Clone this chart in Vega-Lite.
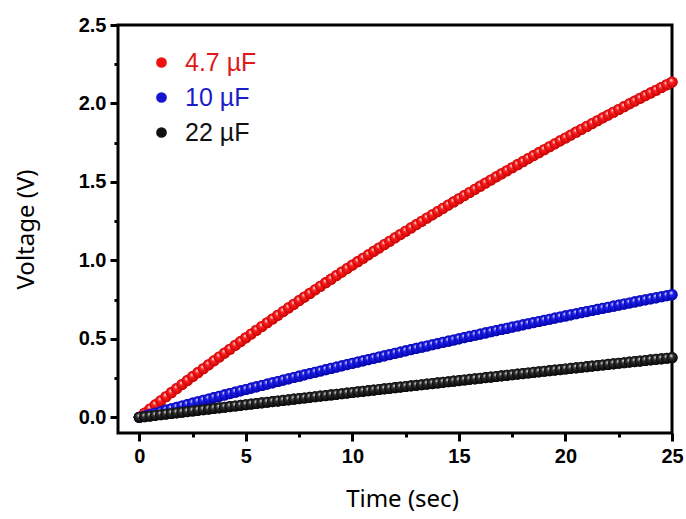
{
"$schema": "https://vega.github.io/schema/vega-lite/v6.json",
"width": 554, "height": 408,
"autosize": {"type": "none"},
"padding": {"left": 118, "top": 25, "right": 14, "bottom": 86},
"background": "white",
"config": {"view": {"stroke": "black", "strokeWidth": 3}},
"data": {"values": [
{"C":"4.7 µF","t":0,"v":0},{"C":"4.7 µF","t":0.25,"v":0.0264},{"C":"4.7 µF","t":0.5,"v":0.0528},{"C":"4.7 µF","t":0.75,"v":0.079},{"C":"4.7 µF","t":1,"v":0.105},{"C":"4.7 µF","t":1.25,"v":0.131},{"C":"4.7 µF","t":1.5,"v":0.1569},{"C":"4.7 µF","t":1.75,"v":0.1826},{"C":"4.7 µF","t":2,"v":0.2082},{"C":"4.7 µF","t":2.25,"v":0.2337},{"C":"4.7 µF","t":2.5,"v":0.2591},{"C":"4.7 µF","t":2.75,"v":0.2844},{"C":"4.7 µF","t":3,"v":0.3095},{"C":"4.7 µF","t":3.25,"v":0.3345},{"C":"4.7 µF","t":3.5,"v":0.3595},{"C":"4.7 µF","t":3.75,"v":0.3843},{"C":"4.7 µF","t":4,"v":0.409},{"C":"4.7 µF","t":4.25,"v":0.4336},{"C":"4.7 µF","t":4.5,"v":0.4581},{"C":"4.7 µF","t":4.75,"v":0.4824},{"C":"4.7 µF","t":5,"v":0.5067},{"C":"4.7 µF","t":5.25,"v":0.5308},{"C":"4.7 µF","t":5.5,"v":0.5549},{"C":"4.7 µF","t":5.75,"v":0.5788},{"C":"4.7 µF","t":6,"v":0.6026},{"C":"4.7 µF","t":6.25,"v":0.6263},{"C":"4.7 µF","t":6.5,"v":0.65},{"C":"4.7 µF","t":6.75,"v":0.6735},{"C":"4.7 µF","t":7,"v":0.6968},{"C":"4.7 µF","t":7.25,"v":0.7201},{"C":"4.7 µF","t":7.5,"v":0.7433},{"C":"4.7 µF","t":7.75,"v":0.7664},{"C":"4.7 µF","t":8,"v":0.7894},{"C":"4.7 µF","t":8.25,"v":0.8122},{"C":"4.7 µF","t":8.5,"v":0.835},{"C":"4.7 µF","t":8.75,"v":0.8577},{"C":"4.7 µF","t":9,"v":0.8802},{"C":"4.7 µF","t":9.25,"v":0.9027},{"C":"4.7 µF","t":9.5,"v":0.9251},{"C":"4.7 µF","t":9.75,"v":0.9473},{"C":"4.7 µF","t":10,"v":0.9695},{"C":"4.7 µF","t":10.25,"v":0.9916},{"C":"4.7 µF","t":10.5,"v":1.0135},{"C":"4.7 µF","t":10.75,"v":1.0354},{"C":"4.7 µF","t":11,"v":1.0572},{"C":"4.7 µF","t":11.25,"v":1.0788},{"C":"4.7 µF","t":11.5,"v":1.1004},{"C":"4.7 µF","t":11.75,"v":1.1219},{"C":"4.7 µF","t":12,"v":1.1433},{"C":"4.7 µF","t":12.25,"v":1.1646},{"C":"4.7 µF","t":12.5,"v":1.1857},{"C":"4.7 µF","t":12.75,"v":1.2068},{"C":"4.7 µF","t":13,"v":1.2278},{"C":"4.7 µF","t":13.25,"v":1.2488},{"C":"4.7 µF","t":13.5,"v":1.2696},{"C":"4.7 µF","t":13.75,"v":1.2903},{"C":"4.7 µF","t":14,"v":1.3109},{"C":"4.7 µF","t":14.25,"v":1.3315},{"C":"4.7 µF","t":14.5,"v":1.3519},{"C":"4.7 µF","t":14.75,"v":1.3723},{"C":"4.7 µF","t":15,"v":1.3926},{"C":"4.7 µF","t":15.25,"v":1.4128},{"C":"4.7 µF","t":15.5,"v":1.4328},{"C":"4.7 µF","t":15.75,"v":1.4528},{"C":"4.7 µF","t":16,"v":1.4728},{"C":"4.7 µF","t":16.25,"v":1.4926},{"C":"4.7 µF","t":16.5,"v":1.5123},{"C":"4.7 µF","t":16.75,"v":1.532},{"C":"4.7 µF","t":17,"v":1.5516},{"C":"4.7 µF","t":17.25,"v":1.5711},{"C":"4.7 µF","t":17.5,"v":1.5905},{"C":"4.7 µF","t":17.75,"v":1.6098},{"C":"4.7 µF","t":18,"v":1.629},{"C":"4.7 µF","t":18.25,"v":1.6482},{"C":"4.7 µF","t":18.5,"v":1.6673},{"C":"4.7 µF","t":18.75,"v":1.6863},{"C":"4.7 µF","t":19,"v":1.7052},{"C":"4.7 µF","t":19.25,"v":1.724},{"C":"4.7 µF","t":19.5,"v":1.7427},{"C":"4.7 µF","t":19.75,"v":1.7614},{"C":"4.7 µF","t":20,"v":1.78},{"C":"4.7 µF","t":20.25,"v":1.7985},{"C":"4.7 µF","t":20.5,"v":1.8169},{"C":"4.7 µF","t":20.75,"v":1.8353},{"C":"4.7 µF","t":21,"v":1.8536},{"C":"4.7 µF","t":21.25,"v":1.8718},{"C":"4.7 µF","t":21.5,"v":1.8899},{"C":"4.7 µF","t":21.75,"v":1.908},{"C":"4.7 µF","t":22,"v":1.9259},{"C":"4.7 µF","t":22.25,"v":1.9438},{"C":"4.7 µF","t":22.5,"v":1.9616},{"C":"4.7 µF","t":22.75,"v":1.9794},{"C":"4.7 µF","t":23,"v":1.9971},{"C":"4.7 µF","t":23.25,"v":2.0147},{"C":"4.7 µF","t":23.5,"v":2.0322},{"C":"4.7 µF","t":23.75,"v":2.0497},{"C":"4.7 µF","t":24,"v":2.0671},{"C":"4.7 µF","t":24.25,"v":2.0844},{"C":"4.7 µF","t":24.5,"v":2.1016},{"C":"4.7 µF","t":24.75,"v":2.1188},{"C":"4.7 µF","t":25,"v":2.1359},
{"C":"10 µF","t":0,"v":0},{"C":"10 µF","t":0.25,"v":0.0091},{"C":"10 µF","t":0.5,"v":0.0182},{"C":"10 µF","t":0.75,"v":0.0273},{"C":"10 µF","t":1,"v":0.0363},{"C":"10 µF","t":1.25,"v":0.0453},{"C":"10 µF","t":1.5,"v":0.0543},{"C":"10 µF","t":1.75,"v":0.0632},{"C":"10 µF","t":2,"v":0.0722},{"C":"10 µF","t":2.25,"v":0.0811},{"C":"10 µF","t":2.5,"v":0.0899},{"C":"10 µF","t":2.75,"v":0.0988},{"C":"10 µF","t":3,"v":0.1076},{"C":"10 µF","t":3.25,"v":0.1164},{"C":"10 µF","t":3.5,"v":0.1252},{"C":"10 µF","t":3.75,"v":0.1339},{"C":"10 µF","t":4,"v":0.1426},{"C":"10 µF","t":4.25,"v":0.1513},{"C":"10 µF","t":4.5,"v":0.16},{"C":"10 µF","t":4.75,"v":0.1686},{"C":"10 µF","t":5,"v":0.1773},{"C":"10 µF","t":5.25,"v":0.1858},{"C":"10 µF","t":5.5,"v":0.1944},{"C":"10 µF","t":5.75,"v":0.2029},{"C":"10 µF","t":6,"v":0.2114},{"C":"10 µF","t":6.25,"v":0.2199},{"C":"10 µF","t":6.5,"v":0.2284},{"C":"10 µF","t":6.75,"v":0.2368},{"C":"10 µF","t":7,"v":0.2452},{"C":"10 µF","t":7.25,"v":0.2536},{"C":"10 µF","t":7.5,"v":0.2619},{"C":"10 µF","t":7.75,"v":0.2703},{"C":"10 µF","t":8,"v":0.2786},{"C":"10 µF","t":8.25,"v":0.2868},{"C":"10 µF","t":8.5,"v":0.2951},{"C":"10 µF","t":8.75,"v":0.3033},{"C":"10 µF","t":9,"v":0.3115},{"C":"10 µF","t":9.25,"v":0.3197},{"C":"10 µF","t":9.5,"v":0.3278},{"C":"10 µF","t":9.75,"v":0.3359},{"C":"10 µF","t":10,"v":0.344},{"C":"10 µF","t":10.25,"v":0.3521},{"C":"10 µF","t":10.5,"v":0.3601},{"C":"10 µF","t":10.75,"v":0.3681},{"C":"10 µF","t":11,"v":0.3761},{"C":"10 µF","t":11.25,"v":0.384},{"C":"10 µF","t":11.5,"v":0.392},{"C":"10 µF","t":11.75,"v":0.3999},{"C":"10 µF","t":12,"v":0.4078},{"C":"10 µF","t":12.25,"v":0.4156},{"C":"10 µF","t":12.5,"v":0.4234},{"C":"10 µF","t":12.75,"v":0.4312},{"C":"10 µF","t":13,"v":0.439},{"C":"10 µF","t":13.25,"v":0.4468},{"C":"10 µF","t":13.5,"v":0.4545},{"C":"10 µF","t":13.75,"v":0.4622},{"C":"10 µF","t":14,"v":0.4698},{"C":"10 µF","t":14.25,"v":0.4775},{"C":"10 µF","t":14.5,"v":0.4851},{"C":"10 µF","t":14.75,"v":0.4927},{"C":"10 µF","t":15,"v":0.5003},{"C":"10 µF","t":15.25,"v":0.5078},{"C":"10 µF","t":15.5,"v":0.5153},{"C":"10 µF","t":15.75,"v":0.5228},{"C":"10 µF","t":16,"v":0.5302},{"C":"10 µF","t":16.25,"v":0.5377},{"C":"10 µF","t":16.5,"v":0.5451},{"C":"10 µF","t":16.75,"v":0.5525},{"C":"10 µF","t":17,"v":0.5598},{"C":"10 µF","t":17.25,"v":0.5671},{"C":"10 µF","t":17.5,"v":0.5744},{"C":"10 µF","t":17.75,"v":0.5817},{"C":"10 µF","t":18,"v":0.589},{"C":"10 µF","t":18.25,"v":0.5962},{"C":"10 µF","t":18.5,"v":0.6034},{"C":"10 µF","t":18.75,"v":0.6105},{"C":"10 µF","t":19,"v":0.6177},{"C":"10 µF","t":19.25,"v":0.6248},{"C":"10 µF","t":19.5,"v":0.6319},{"C":"10 µF","t":19.75,"v":0.639},{"C":"10 µF","t":20,"v":0.646},{"C":"10 µF","t":20.25,"v":0.653},{"C":"10 µF","t":20.5,"v":0.66},{"C":"10 µF","t":20.75,"v":0.667},{"C":"10 µF","t":21,"v":0.6739},{"C":"10 µF","t":21.25,"v":0.6808},{"C":"10 µF","t":21.5,"v":0.6877},{"C":"10 µF","t":21.75,"v":0.6945},{"C":"10 µF","t":22,"v":0.7014},{"C":"10 µF","t":22.25,"v":0.7082},{"C":"10 µF","t":22.5,"v":0.7149},{"C":"10 µF","t":22.75,"v":0.7217},{"C":"10 µF","t":23,"v":0.7284},{"C":"10 µF","t":23.25,"v":0.7351},{"C":"10 µF","t":23.5,"v":0.7418},{"C":"10 µF","t":23.75,"v":0.7484},{"C":"10 µF","t":24,"v":0.755},{"C":"10 µF","t":24.25,"v":0.7616},{"C":"10 µF","t":24.5,"v":0.7682},{"C":"10 µF","t":24.75,"v":0.7747},{"C":"10 µF","t":25,"v":0.7813},
{"C":"22 µF","t":0,"v":0},{"C":"22 µF","t":0.25,"v":0.004},{"C":"22 µF","t":0.5,"v":0.0081},{"C":"22 µF","t":0.75,"v":0.0121},{"C":"22 µF","t":1,"v":0.0162},{"C":"22 µF","t":1.25,"v":0.0202},{"C":"22 µF","t":1.5,"v":0.0242},{"C":"22 µF","t":1.75,"v":0.0282},{"C":"22 µF","t":2,"v":0.0322},{"C":"22 µF","t":2.25,"v":0.0362},{"C":"22 µF","t":2.5,"v":0.0403},{"C":"22 µF","t":2.75,"v":0.0442},{"C":"22 µF","t":3,"v":0.0482},{"C":"22 µF","t":3.25,"v":0.0522},{"C":"22 µF","t":3.5,"v":0.0562},{"C":"22 µF","t":3.75,"v":0.0602},{"C":"22 µF","t":4,"v":0.0642},{"C":"22 µF","t":4.25,"v":0.0681},{"C":"22 µF","t":4.5,"v":0.0721},{"C":"22 µF","t":4.75,"v":0.076},{"C":"22 µF","t":5,"v":0.08},{"C":"22 µF","t":5.25,"v":0.084},{"C":"22 µF","t":5.5,"v":0.0879},{"C":"22 µF","t":5.75,"v":0.0918},{"C":"22 µF","t":6,"v":0.0958},{"C":"22 µF","t":6.25,"v":0.0997},{"C":"22 µF","t":6.5,"v":0.1036},{"C":"22 µF","t":6.75,"v":0.1075},{"C":"22 µF","t":7,"v":0.1114},{"C":"22 µF","t":7.25,"v":0.1153},{"C":"22 µF","t":7.5,"v":0.1193},{"C":"22 µF","t":7.75,"v":0.1231},{"C":"22 µF","t":8,"v":0.127},{"C":"22 µF","t":8.25,"v":0.1309},{"C":"22 µF","t":8.5,"v":0.1348},{"C":"22 µF","t":8.75,"v":0.1387},{"C":"22 µF","t":9,"v":0.1426},{"C":"22 µF","t":9.25,"v":0.1464},{"C":"22 µF","t":9.5,"v":0.1503},{"C":"22 µF","t":9.75,"v":0.1541},{"C":"22 µF","t":10,"v":0.158},{"C":"22 µF","t":10.25,"v":0.1618},{"C":"22 µF","t":10.5,"v":0.1657},{"C":"22 µF","t":10.75,"v":0.1695},{"C":"22 µF","t":11,"v":0.1734},{"C":"22 µF","t":11.25,"v":0.1772},{"C":"22 µF","t":11.5,"v":0.181},{"C":"22 µF","t":11.75,"v":0.1848},{"C":"22 µF","t":12,"v":0.1886},{"C":"22 µF","t":12.25,"v":0.1924},{"C":"22 µF","t":12.5,"v":0.1963},{"C":"22 µF","t":12.75,"v":0.2001},{"C":"22 µF","t":13,"v":0.2038},{"C":"22 µF","t":13.25,"v":0.2076},{"C":"22 µF","t":13.5,"v":0.2114},{"C":"22 µF","t":13.75,"v":0.2152},{"C":"22 µF","t":14,"v":0.219},{"C":"22 µF","t":14.25,"v":0.2227},{"C":"22 µF","t":14.5,"v":0.2265},{"C":"22 µF","t":14.75,"v":0.2302},{"C":"22 µF","t":15,"v":0.234},{"C":"22 µF","t":15.25,"v":0.2377},{"C":"22 µF","t":15.5,"v":0.2415},{"C":"22 µF","t":15.75,"v":0.2452},{"C":"22 µF","t":16,"v":0.249},{"C":"22 µF","t":16.25,"v":0.2527},{"C":"22 µF","t":16.5,"v":0.2564},{"C":"22 µF","t":16.75,"v":0.2601},{"C":"22 µF","t":17,"v":0.2638},{"C":"22 µF","t":17.25,"v":0.2675},{"C":"22 µF","t":17.5,"v":0.2713},{"C":"22 µF","t":17.75,"v":0.275},{"C":"22 µF","t":18,"v":0.2786},{"C":"22 µF","t":18.25,"v":0.2823},{"C":"22 µF","t":18.5,"v":0.286},{"C":"22 µF","t":18.75,"v":0.2897},{"C":"22 µF","t":19,"v":0.2934},{"C":"22 µF","t":19.25,"v":0.297},{"C":"22 µF","t":19.5,"v":0.3007},{"C":"22 µF","t":19.75,"v":0.3043},{"C":"22 µF","t":20,"v":0.308},{"C":"22 µF","t":20.25,"v":0.3116},{"C":"22 µF","t":20.5,"v":0.3153},{"C":"22 µF","t":20.75,"v":0.3189},{"C":"22 µF","t":21,"v":0.3226},{"C":"22 µF","t":21.25,"v":0.3262},{"C":"22 µF","t":21.5,"v":0.3298},{"C":"22 µF","t":21.75,"v":0.3334},{"C":"22 µF","t":22,"v":0.337},{"C":"22 µF","t":22.25,"v":0.3406},{"C":"22 µF","t":22.5,"v":0.3443},{"C":"22 µF","t":22.75,"v":0.3478},{"C":"22 µF","t":23,"v":0.3514},{"C":"22 µF","t":23.25,"v":0.355},{"C":"22 µF","t":23.5,"v":0.3586},{"C":"22 µF","t":23.75,"v":0.3622},{"C":"22 µF","t":24,"v":0.3658},{"C":"22 µF","t":24.25,"v":0.3693},{"C":"22 µF","t":24.5,"v":0.3729},{"C":"22 µF","t":24.75,"v":0.3764},{"C":"22 µF","t":25,"v":0.38}
]},
"encoding": {
  "x": {"field": "t", "type": "quantitative",
    "scale": {"domain": [-1, 25], "nice": false, "zero": false},
    "axis": {"values": [0, 2.5, 5, 7.5, 10, 12.5, 15, 17.5, 20, 22.5, 25], "format": "d",
      "labelExpr": "datum.value % 5 === 0 ? datum.label : ''",
      "domain": false, "grid": false,
      "tickColor": "black", "tickWidth": 3,
      "tickSize": {"condition": {"test": "datum.value % 5 === 0", "value": 8}, "value": 4},
      "labelFont": "Liberation Sans", "labelFontWeight": "bold", "labelFontSize": 20, "labelColor": "black",
      "labelPadding": 5, "labelFlush": false,
      "title": "Time (sec)", "titleFont": "Noto Sans", "titleFontWeight": "normal", "titleFontSize": 24, "titleColor": "black", "titlePadding": 21, "titleX": 284}},
  "y": {"field": "v", "type": "quantitative",
    "scale": {"domain": [-0.1, 2.5], "nice": false, "zero": false},
    "axis": {"values": [0, 0.25, 0.5, 0.75, 1, 1.25, 1.5, 1.75, 2, 2.25, 2.5], "format": ".1f",
      "labelExpr": "(datum.value * 2) % 1 === 0 ? datum.label : ''",
      "domain": false, "grid": false,
      "tickColor": "black", "tickWidth": 3,
      "tickSize": {"condition": {"test": "(datum.value * 2) % 1 === 0", "value": 8}, "value": 4},
      "labelFont": "Liberation Sans", "labelFontWeight": "bold", "labelFontSize": 20, "labelColor": "black",
      "labelPadding": 4, "labelFlush": false,
      "title": "Voltage (V)", "titleFont": "Noto Sans", "titleFontWeight": "normal", "titleFontSize": 24, "titleColor": "black", "titlePadding": 40}}
},
"layer": [
  {"mark": {"type": "point", "filled": true, "size": 125, "opacity": 1, "strokeWidth": 0, "clip": false},
   "encoding": {
    "color": {"field": "C", "type": "nominal",
      "scale": {"domain": ["4.7 µF", "10 µF", "22 µF"], "range": ["#ee1111", "#1515d0", "#111111"]},
      "legend": {"orient": "none", "legendX": 31, "legendY": 25, "title": null,
        "symbolType": "circle", "symbolSize": 115, "symbolStrokeWidth": 0, "symbolOpacity": 1,
        "labelFont": "Liberation Sans", "labelFontSize": 25, "labelOffset": 11, "rowPadding": 9,
        "labelLimit": 300,
        "encode": {
          "labels": {"update": {"fill": {"signal": "datum.label === '4.7 µF' ? '#e01818' : datum.label === '10 µF' ? '#1c1cc8' : '#111111'"}}}
        }}}}},
  {"mark": {"type": "point", "filled": true, "size": 125, "opacity": 1, "strokeWidth": 0, "clip": false},
   "encoding": {
    "fill": {"condition": [
        {"test": "datum.C === '4.7 µF'", "value": {"gradient": "radial", "x1": 0.42, "y1": 0.3, "r1": 0, "x2": 0.5, "y2": 0.5, "r2": 0.55, "stops": [{"offset": 0, "color": "#ffffff"}, {"offset": 0.35, "color": "#ff2020"}, {"offset": 1, "color": "#c00000"}]}},
        {"test": "datum.C === '10 µF'", "value": {"gradient": "radial", "x1": 0.42, "y1": 0.3, "r1": 0, "x2": 0.5, "y2": 0.5, "r2": 0.55, "stops": [{"offset": 0, "color": "#ffffff"}, {"offset": 0.35, "color": "#2020f0"}, {"offset": 1, "color": "#0000a0"}]}}
      ],
      "value": {"gradient": "radial", "x1": 0.42, "y1": 0.3, "r1": 0, "x2": 0.5, "y2": 0.5, "r2": 0.55, "stops": [{"offset": 0, "color": "#f0f0f0"}, {"offset": 0.35, "color": "#303030"}, {"offset": 1, "color": "#000000"}]}}
   }}
]
}
